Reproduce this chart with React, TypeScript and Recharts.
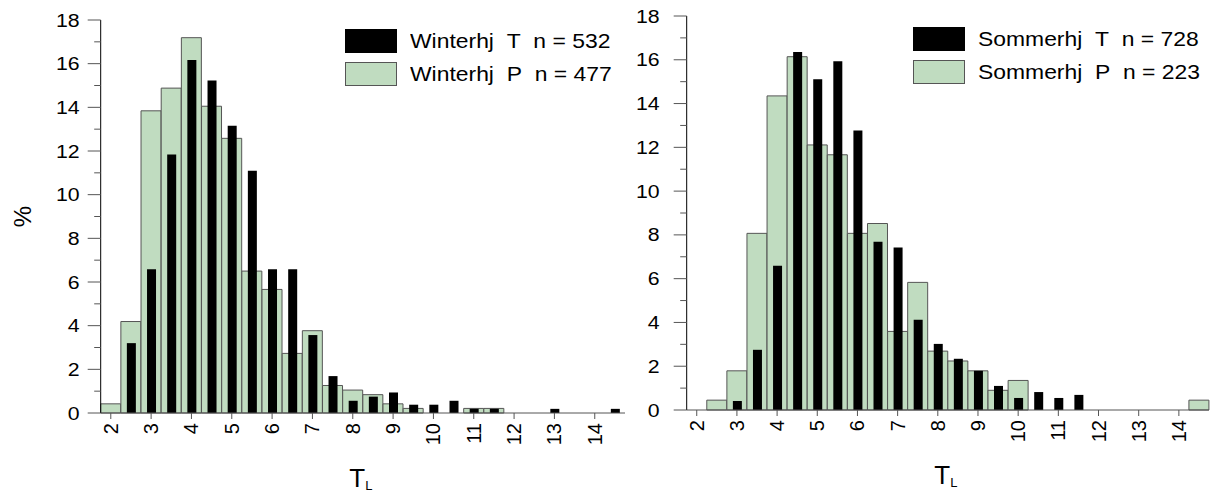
import React from 'react';
import { BarChart, Bar, XAxis, YAxis } from 'recharts';

// T_L histogram classes (bin centres, 0.5 wide)
const bins = [2, 2.5, 3, 3.5, 4, 4.5, 5, 5.5, 6, 6.5, 7, 7.5, 8, 8.5, 9, 9.5, 10, 10.5, 11, 11.5, 12, 12.5, 13, 13.5, 14, 14.5];
const yTicks = [0, 1, 2, 3, 4, 5, 6, 7, 8, 9, 10, 11, 12, 13, 14, 15, 16, 17, 18];

// percentages per class
const winterT = [0, 3.20, 6.58, 11.84, 16.17, 15.23, 13.16, 11.09, 6.58, 6.58, 3.57, 1.69, 0.56, 0.75, 0.94, 0.38, 0.38, 0.56, 0.19, 0.19, 0, 0, 0.19, 0, 0, 0.19];
const winterP = [0.42, 4.19, 13.84, 14.88, 17.19, 14.05, 12.58, 6.50, 5.66, 2.73, 3.77, 1.26, 1.05, 0.84, 0.42, 0.21, 0, 0, 0.21, 0.21, 0, 0, 0, 0, 0, 0];
const sommerT = [0, 0, 0.41, 2.75, 6.59, 16.35, 15.11, 15.93, 12.77, 7.69, 7.42, 4.12, 3.02, 2.34, 1.79, 1.10, 0.55, 0.82, 0.55, 0.69, 0, 0, 0, 0, 0, 0];
const sommerP = [0, 0.45, 1.79, 8.07, 14.35, 16.14, 12.11, 11.66, 8.07, 8.52, 3.59, 5.83, 2.69, 2.24, 1.79, 0.90, 1.35, 0, 0, 0, 0, 0, 0, 0, 0, 0.45];

const winterLegend = ['Winterhj\u00a0\u00a0T\u00a0\u00a0n = 532', 'Winterhj\u00a0\u00a0P\u00a0\u00a0n = 477'];
const sommerLegend = ['Sommerhj\u00a0\u00a0T\u00a0\u00a0n = 728', 'Sommerhj\u00a0\u00a0P\u00a0\u00a0n = 223'];

const FONT = "'Liberation Sans', Arial, sans-serif";
const AXIS = '#555';
const GREEN = '#c0dcc0';

const XTick = ({ x, y, payload }: any) => (
  <text x={x} y={y} transform={`rotate(-90 ${x} ${y})`} textAnchor="end" dominantBaseline="central"
    fontSize={20} fontFamily={FONT} fill="#000">{payload.value}</text>
);

const makeYTick = (gap: number) => ({ x, y, payload }: any) => {
  const major = payload.value % 2 === 0;
  const len = major ? 13 : 6.5;
  const tx = x - 13 - gap;
  return (
    <g>
      <line x1={x - len} x2={x} y1={y} y2={y} stroke={AXIS} strokeWidth={1} />
      {major && (
        <text x={tx} y={y} textAnchor="end" dominantBaseline="central" fontSize={19} fontFamily={FONT} fill="#000"
          transform={`matrix(1.12 0 0 1 ${-0.12 * tx} 0)`}>{payload.value}</text>
      )}
    </g>
  );
};

const TLabel = ({ viewBox }: any) => (
  <text x={viewBox.x + viewBox.width / 2 - 2} y={viewBox.y + 74} textAnchor="middle" fontFamily={FONT} fill="#000">
    <tspan fontSize={26}>T</tspan>
    <tspan fontSize={13} dy={3}>L</tspan>
  </text>
);

const PctLabel = ({ viewBox }: any) => {
  const cx = viewBox.x + 22;
  const cy = viewBox.y + viewBox.height / 2;
  return (
    <text x={cx} y={cy} transform={`rotate(-90 ${cx} ${cy})`} textAnchor="middle" dominantBaseline="central"
      fontSize={24} fontFamily={FONT} fill="#000">%</text>
  );
};

interface PanelProps {
  t: number[]; p: number[]; legend: string[];
  left: number; width: number; top: number; right: number; yWidth: number; xHeight: number;
  gap: number; legendX: number; legendY: number; showPct?: boolean;
}

const Panel: React.FC<PanelProps> = (pr) => {
  const data = bins.map((b, i) => ({ bin: b, t: pr.t[i], p: pr.p[i] }));
  return (
    <div style={{ position: 'absolute', left: pr.left, top: 0, width: pr.width, height: 495 }}>
      <BarChart width={pr.width} height={495} data={data} barCategoryGap={0} barGap={0}
        margin={{ top: pr.top, right: pr.right, bottom: 0, left: 0 }}>
        <XAxis xAxisId="p" dataKey="bin" interval={1} height={pr.xHeight} tick={<XTick />}
          tickSize={6} tickMargin={4} tickLine={{ stroke: AXIS }} axisLine={{ stroke: AXIS }} label={TLabel} />
        <XAxis xAxisId="t" dataKey="bin" orientation="top" height={0} tick={false} tickLine={false}
          axisLine={{ stroke: AXIS }} />
        <YAxis yAxisId="l" domain={[0, 18]} ticks={yTicks} interval={0} width={pr.yWidth} tickSize={0} tickMargin={0}
          tickLine={false} axisLine={{ stroke: '#000' }} tick={makeYTick(pr.gap)}
          label={pr.showPct ? PctLabel : undefined} />
        <YAxis yAxisId="r" orientation="right" domain={[0, 18]} width={0} tick={false} tickLine={false}
          axisLine={{ stroke: AXIS }} />
        <Bar xAxisId="p" yAxisId="l" dataKey="p" fill={GREEN} stroke={AXIS} strokeWidth={1} isAnimationActive={false} />
        <Bar xAxisId="t" yAxisId="l" dataKey="t" fill="#000" barSize={9} isAnimationActive={false} />
      </BarChart>
      {pr.legend.map((txt, i) => (
        <div key={txt} style={{ position: 'absolute', left: pr.legendX, top: pr.legendY + i * 33, height: 24,
          display: 'flex', alignItems: 'center', fontFamily: FONT, fontSize: 21, color: '#000', whiteSpace: 'nowrap' }}>
          <span style={{ display: 'inline-block', width: 52, height: 24, boxSizing: 'border-box',
            background: i === 0 ? '#000' : GREEN, border: `1px solid ${i === 0 ? '#000' : AXIS}` }} />
          <span style={{ marginLeft: 13, display: 'inline-block', transform: 'scaleX(1.09)', transformOrigin: 'left center' }}>{txt}</span>
        </div>
      ))}
    </div>
  );
};

export default function App() {
  return (
    <div style={{ position: 'absolute', left: 0, top: 0, width: 1211, height: 495, background: '#fff' }}>
      <Panel t={winterT} p={winterP} legend={winterLegend} left={0} width={640} top={20} right={15}
        yWidth={100.7} xHeight={82} gap={8} legendX={345} legendY={29} showPct />
      <Panel t={sommerT} p={sommerP} legend={sommerLegend} left={600} width={611} top={16} right={2}
        yWidth={86.7} xHeight={85} gap={14} legendX={312.7} legendY={26.7} />
    </div>
  );
}
